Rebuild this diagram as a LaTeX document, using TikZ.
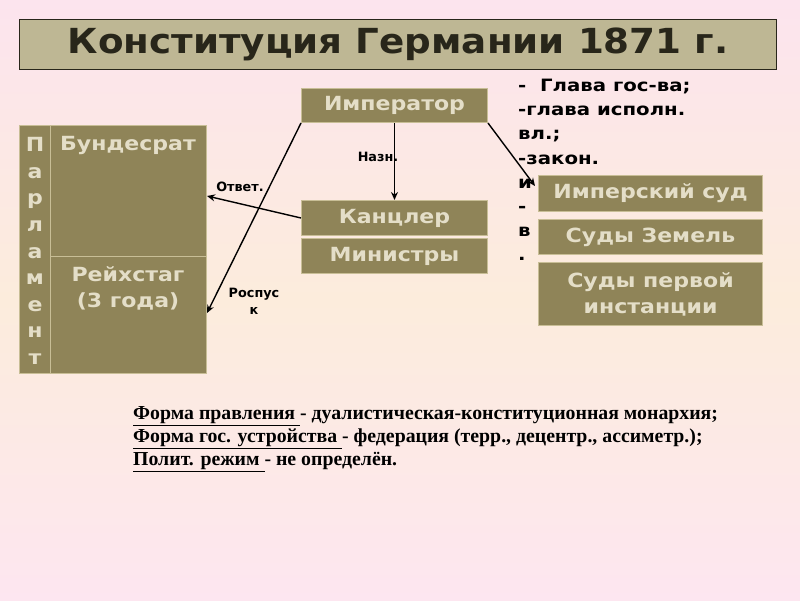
\documentclass[tikz,border=0pt]{standalone}
\usepackage{fontspec}
\setmainfont{DejaVu Sans}
\newfontfamily\boxfont{DejaVu Sans}[FakeStretch=1.13]
\newfontfamily\titlefont{DejaVu Sans}[FakeStretch=1.08]
\newfontfamily\rolefont{DejaVu Sans}[FakeStretch=1.16]
\newfontfamily\serifb{Liberation Serif}
\usetikzlibrary{arrows.meta}
\definecolor{bgtop}{RGB}{252,228,238}
\definecolor{bgmid}{RGB}{252,236,220}
\definecolor{bgbot}{RGB}{253,230,240}
\definecolor{titlefill}{RGB}{190,183,148}
\definecolor{titletext}{RGB}{40,38,26}
\definecolor{boxfill}{RGB}{143,132,88}
\definecolor{boxline}{RGB}{200,190,150}
\definecolor{boxtext}{RGB}{228,222,200}
\begin{document}
\begin{tikzpicture}[x=1pt,y=-1pt,
  box/.style={fill=boxfill, draw=boxline, line width=1pt, text=boxtext,
    font=\boxfont\bfseries\fontsize{19.5}{22}\selectfont, inner sep=0pt, anchor=north west, align=center},
  btext/.style={text=boxtext, font=\boxfont\bfseries\fontsize{19.5}{26}\selectfont, inner sep=0pt, align=center},
  lbl/.style={font=\bfseries\fontsize{12.8}{14}\selectfont, inner sep=0pt, align=center},
  conn/.style={-{Stealth[length=8pt,width=7pt]}, line width=1.4pt, black}]
\useasboundingbox (0,0) rectangle (800,600);
\shade[top color=bgtop, bottom color=bgbot, middle color=bgmid] (0,0) rectangle (800,600);
% title
\node[box, fill=titlefill, draw=titletext, text=titletext, minimum width=757pt, minimum height=50pt,
  font=\titlefont\bfseries\fontsize{34.5}{38}\selectfont] (title) at (19,19) {Конституция Германии 1871 г.};
% right text (partly covered by the court boxes)
\node[anchor=north west, inner sep=0pt, align=left, font=\rolefont\bfseries\fontsize{17}{24.2}\selectfont] (roles) at (518,79)
  {-\ \ Глава гос-ва;\\-глава исполн.\\вл.;\\-закон.\\и\\-\\в\\.};
% emperor
\node[box, minimum width=186pt, minimum height=34pt] (imp) at (301,88) {Император};
% parliament
\node[box, minimum width=31pt, minimum height=248pt] (parl) at (19,125) {};
\node[btext, font=\boxfont\bfseries\fontsize{19.5}{26.6}\selectfont] (parltext) at (35,251) {П\\а\\р\\л\\а\\м\\е\\н\\т};
\node[box, minimum width=156pt, minimum height=131pt] (bund) at (50,125) {};
\node[btext] (bundtext) at (128,145) {Бундесрат};
\node[box, minimum width=156pt, minimum height=117pt] (reich) at (50,256) {};
\node[btext] (reichtext) at (128,288) {Рейхстаг\\(3 года)};
% chancellor, ministers
\node[box, minimum width=186pt, minimum height=35pt] (kanz) at (301,200) {Канцлер};
\node[box, minimum width=186pt, minimum height=35pt] (min) at (301,238) {Министры};
% courts
\node[box, minimum width=224pt, minimum height=36pt] (court1) at (538,175) {Имперский суд};
\node[box, minimum width=224pt, minimum height=35pt] (court2) at (538,219) {Суды Земель};
\node[box, minimum width=224pt, minimum height=63pt, font=\boxfont\bfseries\fontsize{19.5}{26}\selectfont] (court3) at (538,262) {Суды первой\\инстанции};
% connectors
\coordinate (otvEnd) at (207,196);
\coordinate (rosEnd) at (207,313);
\coordinate (rightEnd) at (535,186);
\coordinate (kanzStart) at (301,218);
\draw[conn] (imp.south) -- (kanz.north);
\draw[conn] (kanzStart) -- (otvEnd);
\draw[conn] (imp.south west) -- (rosEnd);
\draw[conn] (imp.south east) -- (rightEnd);
% labels
\node[lbl] (lnazn) at (378,157) {Назн.};
\node[lbl] (lotv) at (240,187) {Ответ.};
\node[lbl, font=\bfseries\fontsize{12.8}{17}\selectfont] (lros) at (254,301) {Роспус\\к};
% bottom text
\node[anchor=north west, inner sep=0pt, align=left, font=\serifb\bfseries\fontsize{19.8}{23}\selectfont] (forms) at (133,406)
  {\underline{Форма правления }- дуалистическая-конституционная монархия;\\
   \underline{Форма гос. устройства }- федерация (терр., децентр., ассиметр.);\\
   \underline{Полит. режим }- не определён.};
\end{tikzpicture}
\end{document}
